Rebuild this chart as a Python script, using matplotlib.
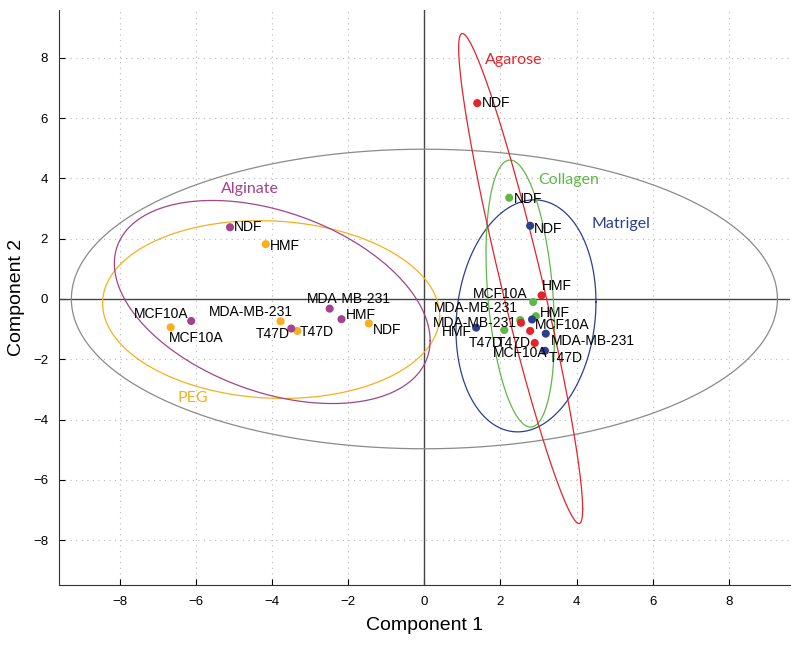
import matplotlib
matplotlib.use("Agg")
import matplotlib.pyplot as plt
import numpy as np

plt.rcParams['font.family'] = ['Liberation Sans', 'DejaVu Sans']

# points, one set per hydrogel
cells_agarose = ['NDF', 'HMF', 'MDA-MB-231', 'MCF10A', 'T47D']
x_agarose = [1.39, 3.08, 2.54, 2.78, 2.90]
y_agarose = [6.50, 0.12, -0.79, -1.06, -1.46]

cells_collagen = ['NDF', 'MCF10A', 'HMF', 'T47D', 'MDA-MB-231']
x_collagen = [2.23, 2.86, 2.93, 2.10, 2.52]
y_collagen = [3.36, -0.10, -0.57, -1.03, -0.70]

cells_matrigel = ['NDF', 'HMF', 'MCF10A', 'MDA-MB-231', 'T47D']
x_matrigel = [2.78, 1.36, 2.83, 3.19, 3.17]
y_matrigel = [2.43, -0.95, -0.68, -1.15, -1.72]

cells_alginate = ['NDF', 'MCF10A', 'T47D', 'MDA-MB-231', 'HMF']
x_alginate = [-5.11, -6.13, -3.50, -2.49, -2.18]
y_alginate = [2.38, -0.73, -0.98, -0.32, -0.67]

cells_peg = ['HMF', 'MCF10A', 'MDA-MB-231', 'T47D', 'NDF']
x_peg = [-4.17, -6.67, -3.78, -3.34, -1.46]
y_peg = [1.82, -0.94, -0.74, -1.06, -0.81]

# ellipses: centre x, centre y, x half-extent, y half-extent, correlation
ell_all = [0.0, 0.0, 9.28, 4.97, 0.0]
ell_agarose = [2.53, 0.68, 1.63, 8.13, -0.94]
ell_collagen = [2.52, 0.18, 0.90, 4.43, -0.30]
ell_matrigel = [2.67, -0.56, 1.84, 3.85, 0.12]
ell_alginate = [-4.00, -0.10, 4.15, 3.37, -0.38]
ell_peg = [-4.03, -0.35, 4.43, 2.95, -0.07]

# group name and where it is written
names = ['Agarose', 'Collagen', 'Matrigel', 'Alginate', 'PEG']
name_x = [2.36, 3.78, 5.17, -4.59, -6.08]
name_y = [7.92, 3.96, 2.48, 3.64, -3.30]

red = '#e4232b'
green = '#5fb846'
blue = '#2d3e8f'
purple = '#a3438c'
orange = '#f7b01c'


def ellipse(ax, e, color):
    cx, cy, rx, ry, rho = e
    t = np.linspace(0, 2 * np.pi, 500)
    ex = cx + rx * np.cos(t)
    ey = cy + ry * (rho * np.cos(t) + np.sqrt(1 - rho ** 2) * np.sin(t))
    ax.plot(ex, ey, color=color, lw=0.9, zorder=3)


fig = plt.figure(figsize=(8, 6.46), dpi=100)
ax = fig.add_axes([0.074, 0.094, 0.913, 0.891])

ax.axhline(0, color='#444444', lw=1.0, zorder=2)
ax.axvline(0, color='#444444', lw=1.0, zorder=2)

ellipse(ax, ell_all, '#8a8a8a')
ellipse(ax, ell_peg, orange)
ellipse(ax, ell_alginate, purple)
ellipse(ax, ell_matrigel, blue)
ellipse(ax, ell_collagen, green)
ellipse(ax, ell_agarose, red)

# label offsets in points: (dx, dy, ha)
off = {
    'agarose': [(3, 0, 'left'), (0, 7, 'left'), (-3, 0, 'right'),
                (-7, -16, 'center'), (-3, 0, 'right')],
    'collagen': [(3, -1, 'left'), (-4, 6, 'right'), (3, 2, 'left'),
                 (-1, -9, 'right'), (-2, 9, 'right')],
    'matrigel': [(3, -2, 'left'), (-3, -3, 'right'), (2, -4, 'left'),
                 (4, -5, 'left'), (3, -5, 'left')],
    'alginate': [(3, 0, 'left'), (-2, 5, 'right'), (-1, -4, 'right'),
                 (14, 7, 'center'), (3, 3, 'left')],
    'peg': [(3, -1, 'left'), (-1, -8, 'left'), (9, 7, 'right'),
            (2, -1, 'left'), (3, -5, 'left')],
}

groups = [
    ('peg', cells_peg, x_peg, y_peg, orange),
    ('alginate', cells_alginate, x_alginate, y_alginate, purple),
    ('collagen', cells_collagen, x_collagen, y_collagen, green),
    ('agarose', cells_agarose, x_agarose, y_agarose, red),
    ('matrigel', cells_matrigel, x_matrigel, y_matrigel, blue),
]

for key, cells, xs, ys, col in groups:
    ax.scatter(xs, ys, s=34, color=col, edgecolors='none', zorder=5)
    for c, xx, yy, (dx, dy, ha) in zip(cells, xs, ys, off[key]):
        ax.annotate(c, (xx, yy), xytext=(dx, dy), textcoords='offset points',
                    ha=ha, va='center', fontsize=10, color='black', zorder=6)

for nm, nx, ny, col in zip(names, name_x, name_y,
                           [red, green, blue, purple, orange]):
    ax.text(nx, ny, nm, color=col, fontsize=11.5, family=['Lato', 'DejaVu Sans'],
            ha='center', va='center', zorder=6)

ax.set_xlim(-9.6, 9.6)
ax.set_ylim(-9.5, 9.6)
ax.set_xticks(np.arange(-8, 9, 2))
ax.set_yticks(np.arange(-8, 9, 2))
ax.set_xticklabels([f'\u2212{abs(v)}' if v < 0 else str(v) for v in range(-8, 9, 2)])
ax.set_yticklabels([f'\u2212{abs(v)}' if v < 0 else str(v) for v in range(-8, 9, 2)])
ax.grid(True, color='#b8b8b8', linestyle=(0, (1, 4)), lw=0.8)
ax.tick_params(direction='in', length=4, labelsize=9.5, pad=8)
for s in ['top', 'right']:
    ax.spines[s].set_visible(False)
ax.spines['left'].set_color('#333333')
ax.spines['bottom'].set_color('#333333')

ax.set_xlabel('Component 1', fontsize=14, labelpad=6)
ax.set_ylabel('Component 2', fontsize=14, labelpad=6)

fig.savefig('out.png', dpi=100)
